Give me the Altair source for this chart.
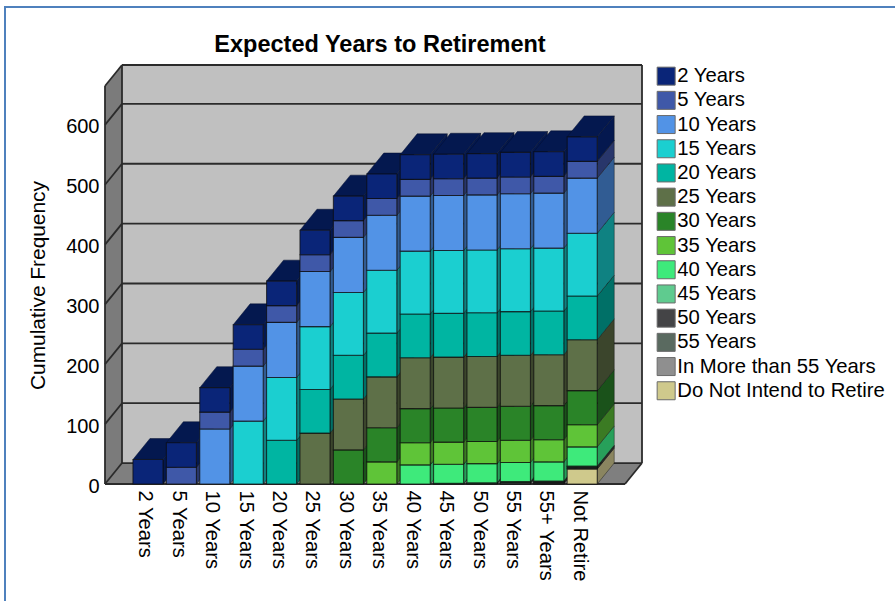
import json

import altair as alt
import pandas as pd

FONT = "Liberation Sans"

chart_title = "Expected Years to Retirement"

bar_labels = ["2 Years", "5 Years", "10 Years", "15 Years", "20 Years", "25 Years", "30 Years",
              "35 Years", "40 Years", "45 Years", "50 Years", "55 Years", "55+ Years", "Not Retire"]

series_names = ["2 Years", "5 Years", "10 Years", "15 Years", "20 Years", "25 Years", "30 Years",
                "35 Years", "40 Years", "45 Years", "50 Years", "55 Years",
                "In More than 55 Years", "Do Not Intend to Retire"]

# Frequency of each response; a bar accumulates every response up to its own category.
frequencies = [41, 28, 92, 105, 73, 85, 57, 37, 32, 1, 1, 2, 1, 25]

front_colors = ["#0a2578", "#3f58a8", "#5293e6", "#1bcfd0", "#00b5a2", "#5e7048", "#2a8428",
                "#5fc438", "#3eea7b", "#5fcb8f", "#444446", "#5a6a60", "#8f8f8f", "#cfc98c"]
side_colors = ["#04184f", "#28366b", "#315c93", "#0f8282", "#007067", "#3b452c", "#1a521a",
               "#3b7b23", "#27a05a", "#3b8058", "#2a2a2c", "#384238", "#5a5a5a", "#8a8560"]

# Extent of the extruded box in axis units.
X_MIN, X_MAX = -1.287, 14.79
Y_MAX = 700
DEPTH_X, DEPTH_Y = 0.509, 35
BAR_HALF = 0.45
WALL_TOP = Y_MAX - DEPTH_Y
FLOOR_RIGHT = X_MAX - DEPTH_X

fronts, sides, tops = [], [], []
for i in range(len(bar_labels)):
    # Stack from the latest category at the base up to "2 Years" at the top.
    base = 0
    left, right = i - BAR_HALF, i + BAR_HALF
    for s in range(i, -1, -1):
        name, value = series_names[s], frequencies[s]
        top = base + value
        key = f"{i}-{s}"
        fronts.append(dict(series=name, x=left, x2=right, y=base, y2=top))
        sides.append(dict(series=name, key=key, x=right, y=base, y2=top))
        sides.append(dict(series=name, key=key, x=right + DEPTH_X, y=base + DEPTH_Y, y2=top + DEPTH_Y))
        base = top
    tops.append(dict(key=i, y=base, x=left, x2=right))
    tops.append(dict(key=i, y=base + DEPTH_Y, x=left + DEPTH_X, x2=right + DEPTH_X))

grid_values = [0, 100, 200, 300, 400, 500, 600]
edges = []
for v in grid_values:
    edges.append(dict(x=X_MIN + DEPTH_X, x2=X_MAX, y=v + DEPTH_Y, y2=v + DEPTH_Y))
    edges.append(dict(x=X_MIN, x2=X_MIN + DEPTH_X, y=v, y2=v + DEPTH_Y))
edges += [
    dict(x=X_MIN + DEPTH_X, x2=X_MAX, y=Y_MAX, y2=Y_MAX),
    dict(x=X_MIN, x2=X_MIN + DEPTH_X, y=WALL_TOP, y2=Y_MAX),
    dict(x=X_MIN, x2=X_MIN, y=0, y2=WALL_TOP),
    dict(x=X_MIN + DEPTH_X, x2=X_MIN + DEPTH_X, y=DEPTH_Y, y2=Y_MAX),
    dict(x=X_MAX, x2=X_MAX, y=DEPTH_Y, y2=Y_MAX),
    dict(x=FLOOR_RIGHT, x2=X_MAX, y=0, y2=DEPTH_Y),
    dict(x=X_MIN, x2=FLOOR_RIGHT, y=0, y2=0),
]

x_axis = alt.Axis(
    values=list(range(len(bar_labels))),
    labelExpr=f"{json.dumps(bar_labels)}[datum.value]",
    labelAngle=90, labelAlign="left", labelBaseline="middle", labelPadding=6, labelOffset=-3,
    labelFontSize=20.2, labelFont=FONT, labelColor="#000000", labelOverlap=False, labelBound=False,
    domain=False, ticks=False, grid=False, title=None,
)
y_axis = alt.Axis(
    values=grid_values, labelFontSize=20, labelFont=FONT, labelColor="#000000", labelPadding=6,
    labelOffset=2, domain=False, ticks=False, grid=False, title="Cumulative Frequency", titleFont=FONT,
    titleFontSize=20.9, titleFontWeight="normal", titleColor="#000000", titleX=-57, titleY=220,
)
x_scale = alt.Scale(domain=[X_MIN, X_MAX], nice=False, zero=False)
y_scale = alt.Scale(domain=[0, Y_MAX], nice=False)


def pos_x(field="x"):
    return alt.X(field, type="quantitative", scale=x_scale, axis=x_axis)


def pos_y(field="y"):
    return alt.Y(field, type="quantitative", scale=y_scale, axis=y_axis)


back_wall = alt.Chart(pd.DataFrame([dict(x=X_MIN + DEPTH_X, x2=X_MAX, y=DEPTH_Y, y2=Y_MAX)])).mark_rect(
    fill="#c0c0c0").encode(x=pos_x(), x2="x2:Q", y=pos_y(), y2="y2:Q")

left_wall = alt.Chart(pd.DataFrame([
    dict(x=X_MIN, y=0, y2=WALL_TOP), dict(x=X_MIN + DEPTH_X, y=DEPTH_Y, y2=Y_MAX),
])).mark_area(fill="#7b7b7b", orient="vertical").encode(x=pos_x(), y=pos_y(), y2="y2:Q")

floor = alt.Chart(pd.DataFrame([
    dict(y=0, x=X_MIN, x2=FLOOR_RIGHT), dict(y=DEPTH_Y, x=X_MIN + DEPTH_X, x2=X_MAX),
])).mark_area(fill="#7f7f7f", orient="horizontal").encode(x=pos_x(), x2="x2:Q", y=pos_y())

edge_lines = alt.Chart(pd.DataFrame(edges)).mark_rule(color="#2b2b2b", strokeWidth=1.8).encode(
    x=pos_x(), x2="x2:Q", y=pos_y(), y2="y2:Q")

side_faces = alt.Chart(pd.DataFrame(sides)).mark_area(
    orient="vertical", stroke="#0c0c0c", strokeWidth=0.8, strokeOpacity=0.5,
).encode(
    x=pos_x(), y=pos_y(), y2="y2:Q", detail="key:N",
    color=alt.Color("series:N", scale=alt.Scale(domain=series_names, range=side_colors), legend=None),
)

top_faces = alt.Chart(pd.DataFrame(tops)).mark_area(
    orient="horizontal", fill="#04184f", stroke="#020c2c", strokeWidth=0.8, strokeOpacity=0.6,
).encode(x=pos_x(), x2="x2:Q", y=pos_y(), detail="key:N")

front_faces = alt.Chart(pd.DataFrame(fronts)).mark_rect(
    stroke="#0c0c0c", strokeWidth=1.1, strokeOpacity=0.7,
).encode(
    x=pos_x(), x2="x2:Q", y=pos_y(), y2="y2:Q",
    color=alt.Color(
        "series:N",
        scale=alt.Scale(domain=series_names, range=front_colors),
        legend=alt.Legend(
            title=None, orient="none", legendX=551, legendY=1, padding=0, symbolType="square",
            symbolSize=324, symbolStrokeColor="#6a6a6a", symbolStrokeWidth=1, labelFont=FONT,
            labelFontSize=20.3, labelColor="#000000", labelOffset=1, labelLimit=260, rowPadding=1.2,
        ),
    ),
)

# Thin blue frame along the top and left of the chart, placed relative to the plot area.
frame_top = alt.Chart().mark_rule(color="#4f81bd", strokeWidth=2).encode(
    x=alt.value(-101), x2=alt.value(790), y=alt.value(-58), y2=alt.value(-58))
frame_left = alt.Chart().mark_rule(color="#4f81bd", strokeWidth=2).encode(
    x=alt.value(-100), x2=alt.value(-100), y=alt.value(-58), y2=alt.value(536))

# The heading sits above the box, inside the frame.
heading = alt.Chart().mark_text(
    font=FONT, fontSize=23.5, fontWeight="bold", color="#000000", align="center", baseline="alphabetic",
).encode(x=alt.value(275), y=alt.value(-13), text=alt.value(chart_title))

chart = (
    alt.layer(back_wall, floor, left_wall, edge_lines, side_faces, top_faces, front_faces,
              frame_top, frame_left, heading)
    .resolve_scale(color="independent")
    .properties(
        width=537, height=419,
        autosize=alt.AutoSizeParams(type="none"),
        padding={"left": 105, "top": 65, "right": 253, "bottom": 117},
    )
    .configure_view(stroke=None)
)

chart.save("out.html", embed_options={"renderer": "svg", "actions": False})
